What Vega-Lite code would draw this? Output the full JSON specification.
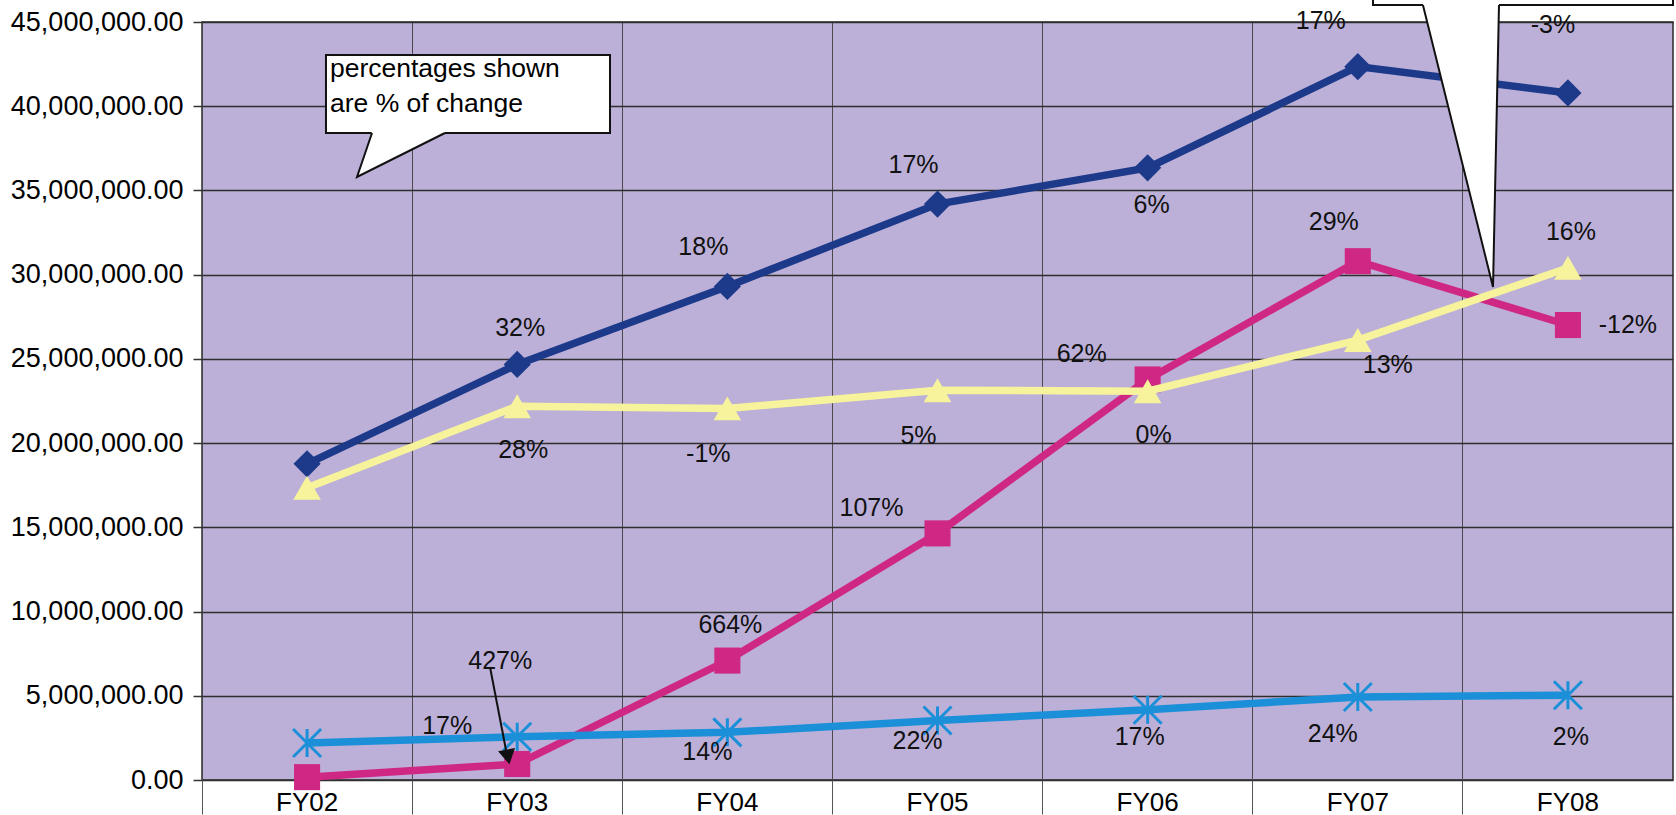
{
  "$schema": "https://vega.github.io/schema/vega-lite/v6.json",
  "width": 1471,
  "height": 758,
  "autosize": {"type": "none"},
  "padding": {"left": 202, "top": 22, "right": 3, "bottom": 35},
  "background": "#ffffff",
  "config": {
    "font": "Liberation Sans",
    "view": {"fill": "#bcb0d8", "stroke": "#2a2a2a", "strokeWidth": 1.5},
    "text": {"fontSize": 25, "color": "#111111", "align": "center", "baseline": "middle"}
  },
  "datasets": {
    "spend": [
      {"series": "Series1", "fy": "FY02", "value": 18770000, "pct": null},
      {"series": "Series1", "fy": "FY03", "value": 24670000, "pct": "32%"},
      {"series": "Series1", "fy": "FY04", "value": 29300000, "pct": "18%"},
      {"series": "Series1", "fy": "FY05", "value": 34190000, "pct": "17%"},
      {"series": "Series1", "fy": "FY06", "value": 36340000, "pct": "6%"},
      {"series": "Series1", "fy": "FY07", "value": 42350000, "pct": "17%"},
      {"series": "Series1", "fy": "FY08", "value": 40790000, "pct": "-3%"},
      {"series": "Series2", "fy": "FY02", "value": 170000, "pct": null},
      {"series": "Series2", "fy": "FY03", "value": 950000, "pct": "427%"},
      {"series": "Series2", "fy": "FY04", "value": 7090000, "pct": "664%"},
      {"series": "Series2", "fy": "FY05", "value": 14640000, "pct": "107%"},
      {"series": "Series2", "fy": "FY06", "value": 23780000, "pct": "62%"},
      {"series": "Series2", "fy": "FY07", "value": 30800000, "pct": "29%"},
      {"series": "Series2", "fy": "FY08", "value": 27010000, "pct": "-12%"},
      {"series": "Series3", "fy": "FY02", "value": 17350000, "pct": null},
      {"series": "Series3", "fy": "FY03", "value": 22190000, "pct": "28%"},
      {"series": "Series3", "fy": "FY04", "value": 22060000, "pct": "-1%"},
      {"series": "Series3", "fy": "FY05", "value": 23140000, "pct": "5%"},
      {"series": "Series3", "fy": "FY06", "value": 23080000, "pct": "0%"},
      {"series": "Series3", "fy": "FY07", "value": 26120000, "pct": "13%"},
      {"series": "Series3", "fy": "FY08", "value": 30400000, "pct": "16%"},
      {"series": "Series4", "fy": "FY02", "value": 2200000, "pct": null},
      {"series": "Series4", "fy": "FY03", "value": 2570000, "pct": "17%"},
      {"series": "Series4", "fy": "FY04", "value": 2830000, "pct": "14%"},
      {"series": "Series4", "fy": "FY05", "value": 3530000, "pct": "22%"},
      {"series": "Series4", "fy": "FY06", "value": 4170000, "pct": "17%"},
      {"series": "Series4", "fy": "FY07", "value": 4930000, "pct": "24%"},
      {"series": "Series4", "fy": "FY08", "value": 5030000, "pct": "2%"}
    ],
    "boxes": [
      {"x": 0.59, "x2": 1.9415, "y": 43040000, "y2": 38410000},
      {"x": 5.5725, "x2": 7.0, "y": 48000000, "y2": 46010000}
    ],
    "tails": [
      {"tail": "left", "x": 0.7376, "y": 35800000, "y2": 35800000},
      {"tail": "left", "x": 0.809, "y": 38500000, "y2": 36240000},
      {"tail": "left", "x": 1.156, "y": 38500000, "y2": 38410000},
      {"tail": "right", "x": 5.81, "y": 46100000, "y2": 46010000},
      {"tail": "right", "x": 6.1435, "y": 46100000, "y2": 29270000},
      {"tail": "right", "x": 6.172, "y": 46100000, "y2": 46010000}
    ],
    "edges": [
      {"tail": "left", "k": 0, "x": 0.809, "y": 38410000},
      {"tail": "left", "k": 1, "x": 0.7376, "y": 35800000},
      {"tail": "left", "k": 2, "x": 1.156, "y": 38410000},
      {"tail": "right", "k": 0, "x": 5.81, "y": 46010000},
      {"tail": "right", "k": 1, "x": 6.1435, "y": 29270000},
      {"tail": "right", "k": 2, "x": 6.172, "y": 46010000}
    ],
    "notes": [
      {"x": 0.609, "y": 41740000, "text": "percentages shown"},
      {"x": 0.609, "y": 39660000, "text": "are % of change"}
    ],
    "arrow": [
      {"k": 0, "x": 1.3705, "y": 6709000},
      {"k": 1, "x": 1.4466, "y": 1781000}
    ],
    "arrowhead": [
      {"x": 1.456, "y": 1366000}
    ]
  },
  "layer": [
    {
      "data": {"name": "spend"},
      "encoding": {
        "x": {
          "field": "fy",
          "type": "ordinal",
          "scale": {"type": "band", "paddingInner": 0, "paddingOuter": 0},
          "axis": {
            "title": null,
            "labelAngle": 0,
            "bandPosition": 0,
            "labelOverlap": false,
            "grid": true,
            "gridColor": "#4a4a4a",
            "gridWidth": 1,
            "ticks": true,
            "tickSize": 34,
            "tickColor": "#555555",
            "tickWidth": 1,
            "labelPadding": -25,
            "labelFontSize": 26,
            "labelColor": "#000000",
            "domain": false
          }
        },
        "y": {
          "field": "value",
          "type": "quantitative",
          "scale": {"domain": [0, 45000000], "nice": false, "zero": true},
          "axis": {
            "title": null,
            "values": [0, 5000000, 10000000, 15000000, 20000000, 25000000, 30000000, 35000000, 40000000, 45000000],
            "format": ",.2f",
            "grid": true,
            "gridColor": "#2e2e2e",
            "gridWidth": 1.6,
            "tickSize": 9,
            "tickColor": "#333333",
            "tickWidth": 1.5,
            "labelPadding": 10,
            "labelFontSize": 27,
            "labelColor": "#000000",
            "domain": false
          }
        }
      },
      "layer": [
        {"transform": [{"filter": "datum.series == 'Series1'"}], "mark": {"type": "line", "color": "#1d3a8a", "strokeWidth": 7.5}},
        {"transform": [{"filter": "datum.series == 'Series1'"}], "mark": {"type": "point", "shape": "diamond", "size": 740, "filled": true, "opacity": 1, "color": "#1d3a8a"}},
        {"transform": [{"filter": "datum.series == 'Series2'"}], "mark": {"type": "line", "color": "#cf2884", "strokeWidth": 7.5}},
        {"transform": [{"filter": "datum.series == 'Series2'"}], "mark": {"type": "point", "shape": "square", "size": 680, "filled": true, "opacity": 1, "color": "#cf2884"}},
        {"transform": [{"filter": "datum.series == 'Series3'"}], "mark": {"type": "line", "color": "#f7f39c", "strokeWidth": 7.5}},
        {"transform": [{"filter": "datum.series == 'Series3'"}], "mark": {"type": "point", "shape": "triangle-up", "size": 760, "filled": true, "opacity": 1, "color": "#f7f39c"}},
        {"transform": [{"filter": "datum.series == 'Series4'"}], "mark": {"type": "line", "color": "#1b90d8", "strokeWidth": 7.5}},
        {"transform": [{"filter": "datum.series == 'Series4'"}], "mark": {"type": "point", "shape": "M0,-1L0,1M-1,-1L1,1M-1,1L1,-1", "size": 784, "filled": false, "opacity": 1, "strokeWidth": 3, "color": "#1b90d8"}},
        {"transform": [{"filter": "indexof(['Series1:FY03','Series2:FY04','Series3:FY08'], datum.series + ':' + datum.fy) >= 0"}], "mark": {"type": "text", "dx": 3, "dy": -36}, "encoding": {"text": {"field": "pct"}}},
        {"transform": [{"filter": "indexof(['Series1:FY04','Series1:FY05','Series2:FY07'], datum.series + ':' + datum.fy) >= 0"}], "mark": {"type": "text", "dx": -24, "dy": -39}, "encoding": {"text": {"field": "pct"}}},
        {"transform": [{"filter": "indexof(['Series1:FY07'], datum.series + ':' + datum.fy) >= 0"}], "mark": {"type": "text", "dx": -37, "dy": -46}, "encoding": {"text": {"field": "pct"}}},
        {"transform": [{"filter": "indexof(['Series1:FY08'], datum.series + ':' + datum.fy) >= 0"}], "mark": {"type": "text", "dx": -15, "dy": -68}, "encoding": {"text": {"field": "pct"}}},
        {"transform": [{"filter": "indexof(['Series3:FY03','Series3:FY06'], datum.series + ':' + datum.fy) >= 0"}], "mark": {"type": "text", "dx": 6, "dy": 44}, "encoding": {"text": {"field": "pct"}}},
        {"transform": [{"filter": "indexof(['Series1:FY06'], datum.series + ':' + datum.fy) >= 0"}], "mark": {"type": "text", "dx": 4, "dy": 37}, "encoding": {"text": {"field": "pct"}}},
        {"transform": [{"filter": "indexof(['Series3:FY04','Series3:FY05'], datum.series + ':' + datum.fy) >= 0"}], "mark": {"type": "text", "dx": -19, "dy": 46}, "encoding": {"text": {"field": "pct"}}},
        {"transform": [{"filter": "indexof(['Series3:FY07'], datum.series + ':' + datum.fy) >= 0"}], "mark": {"type": "text", "dx": 30, "dy": 25}, "encoding": {"text": {"field": "pct"}}},
        {"transform": [{"filter": "indexof(['Series2:FY05','Series2:FY06'], datum.series + ':' + datum.fy) >= 0"}], "mark": {"type": "text", "dx": -66, "dy": -25}, "encoding": {"text": {"field": "pct"}}},
        {"transform": [{"filter": "indexof(['Series2:FY08'], datum.series + ':' + datum.fy) >= 0"}], "mark": {"type": "text", "dx": 60, "dy": 0}, "encoding": {"text": {"field": "pct"}}},
        {"transform": [{"filter": "indexof(['Series2:FY03'], datum.series + ':' + datum.fy) >= 0"}], "mark": {"type": "text", "dx": -17, "dy": -103}, "encoding": {"text": {"field": "pct"}}},
        {"transform": [{"filter": "indexof(['Series4:FY03'], datum.series + ':' + datum.fy) >= 0"}], "mark": {"type": "text", "dx": -70, "dy": -11}, "encoding": {"text": {"field": "pct"}}},
        {"transform": [{"filter": "indexof(['Series4:FY04','Series4:FY05'], datum.series + ':' + datum.fy) >= 0"}], "mark": {"type": "text", "dx": -20, "dy": 20}, "encoding": {"text": {"field": "pct"}}},
        {"transform": [{"filter": "indexof(['Series4:FY06'], datum.series + ':' + datum.fy) >= 0"}], "mark": {"type": "text", "dx": -8, "dy": 27}, "encoding": {"text": {"field": "pct"}}},
        {"transform": [{"filter": "indexof(['Series4:FY07'], datum.series + ':' + datum.fy) >= 0"}], "mark": {"type": "text", "dx": -25, "dy": 37}, "encoding": {"text": {"field": "pct"}}},
        {"transform": [{"filter": "indexof(['Series4:FY08'], datum.series + ':' + datum.fy) >= 0"}], "mark": {"type": "text", "dx": 3, "dy": 42}, "encoding": {"text": {"field": "pct"}}}
      ]
    },
    {
      "layer": [
        {
          "data": {"name": "boxes"},
          "mark": {"type": "rect", "fill": "#ffffff", "stroke": "#111111", "strokeWidth": 2},
          "encoding": {
            "x": {"field": "x", "type": "quantitative", "scale": {"domain": [0, 7], "nice": false, "zero": false}, "axis": null},
            "x2": {"field": "x2"},
            "y": {"field": "y", "type": "quantitative", "scale": {"domain": [0, 45000000], "nice": false}, "axis": null},
            "y2": {"field": "y2"}
          }
        },
        {
          "data": {"name": "tails"},
          "mark": {"type": "area", "fill": "#ffffff", "opacity": 1, "orient": "vertical"},
          "encoding": {
            "x": {"field": "x", "type": "quantitative", "axis": null},
            "y": {"field": "y", "type": "quantitative", "axis": null},
            "y2": {"field": "y2"},
            "detail": {"field": "tail"}
          }
        },
        {
          "data": {"name": "edges"},
          "mark": {"type": "line", "color": "#111111", "strokeWidth": 2},
          "encoding": {
            "x": {"field": "x", "type": "quantitative", "axis": null},
            "y": {"field": "y", "type": "quantitative", "axis": null},
            "detail": {"field": "tail"},
            "order": {"field": "k"}
          }
        },
        {
          "data": {"name": "notes"},
          "mark": {"type": "text", "align": "left", "baseline": "alphabetic", "fontSize": 26.5, "color": "#000000"},
          "encoding": {
            "x": {"field": "x", "type": "quantitative", "axis": null},
            "y": {"field": "y", "type": "quantitative", "axis": null},
            "text": {"field": "text"}
          }
        },
        {
          "data": {"name": "arrow"},
          "mark": {"type": "line", "color": "#111111", "strokeWidth": 2},
          "encoding": {
            "x": {"field": "x", "type": "quantitative", "axis": null},
            "y": {"field": "y", "type": "quantitative", "axis": null},
            "order": {"field": "k"}
          }
        },
        {
          "data": {"name": "arrowhead"},
          "mark": {"type": "point", "shape": "triangle-down", "size": 300, "angle": -11, "filled": true, "opacity": 1, "color": "#111111"},
          "encoding": {
            "x": {"field": "x", "type": "quantitative", "axis": null},
            "y": {"field": "y", "type": "quantitative", "axis": null}
          }
        }
      ]
    }
  ],
  "resolve": {"scale": {"x": "independent"}, "axis": {"y": "independent"}}
}
